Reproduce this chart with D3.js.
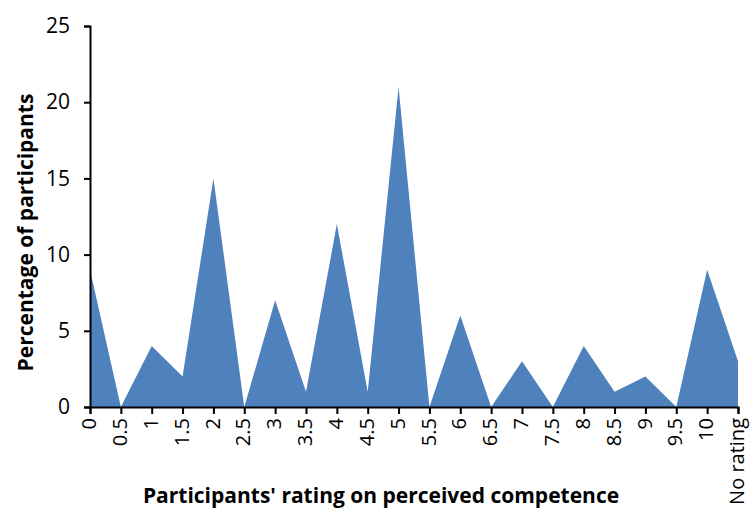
<!DOCTYPE html>
<html>
<head>
<meta charset="utf-8">
<script src="https://cdn.jsdelivr.net/npm/d3@7"></script>
<style>
  body { margin: 0; background: #fff; }
  text { font-family: "Open Sans", Lato, sans-serif; fill: #000; }
</style>
</head>
<body>
<svg id="chart" width="750" height="511"></svg>
<script>
// Share of participants by perceived-competence rating
const categories = ["0","0.5","1","1.5","2","2.5","3","3.5","4","4.5","5","5.5","6","6.5","7","7.5","8","8.5","9","9.5","10","No rating"];
const percentages = [9,0,4,2,15,0,7,1,12,1,21,0,6,0,3,0,4,1,2,0,9,3];
const yTicks = [0,5,10,15,20,25];

const svg = d3.select("#chart");
const margin = {left: 90, right: 12, top: 26, bottom: 104};
const W = 750, H = 511;

const x = d3.scalePoint().domain(categories).range([margin.left, W - margin.right]);
const y = d3.scaleLinear().domain([0, 25]).range([H - margin.bottom, margin.top]);

const data = categories.map((c, i) => ({c, v: percentages[i]}));

const area = d3.area()
  .x(d => x(d.c))
  .y0(y(0))
  .y1(d => y(d.v));

svg.append("path")
  .datum(data)
  .attr("d", area)
  .attr("fill", "#4f81bd");

// Y axis
const yAxis = svg.append("g")
  .attr("transform", `translate(${margin.left},0)`)
  .call(d3.axisLeft(y).tickValues(yTicks).tickSize(6).tickPadding(14));
yAxis.selectAll("text").style("font-size", "21px");

// X axis, labels turned to read upward
const xAxis = svg.append("g")
  .attr("transform", `translate(0,${y(0)})`)
  .call(d3.axisBottom(x).tickSize(7).tickPadding(0));
xAxis.selectAll("text")
  .style("font-size", "20px")
  .attr("text-anchor", "end")
  .attr("dy", "0.28em")
  .attr("transform", "rotate(-90)")
  .attr("x", -11)
  .attr("y", 0);

[yAxis, xAxis].forEach(g => {
  g.select(".domain").attr("stroke", "#000").attr("stroke-width", 2);
  g.selectAll(".tick line").attr("stroke", "#000").attr("stroke-width", 2);
});

// Axis titles
svg.append("text")
  .attr("x", 381)
  .attr("y", 503)
  .attr("text-anchor", "middle")
  .style("font-size", "21px")
  .style("font-weight", "bold")
  .text("Participants' rating on perceived competence");

svg.append("text")
  .attr("transform", `translate(33,${(y(0) + y(25)) / 2 + 16}) rotate(-90)`)
  .attr("text-anchor", "middle")
  .style("font-size", "21px")
  .style("font-weight", "bold")
  .text("Percentage of participants");
</script>
</body>
</html>
